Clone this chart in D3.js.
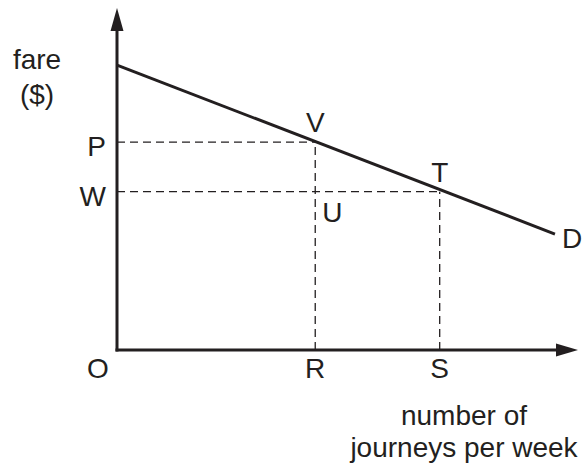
<!DOCTYPE html>
<html>
<head lang="en">
    <meta charset="UTF-8">
    <title>Fare demand</title>
    <script src="https://d3js.org/d3.v7.min.js"></script>
    <style type="text/css">
        body { margin: 0; background: #fff; }
        text { font-family: "Liberation Sans", Arial, sans-serif; font-size: 28px; fill: #231f20; }
    </style>
</head>
<body>

<svg id="svg" width="584" height="470"></svg>

<script>
    // demand line D (quantity, fare)
    var demand = [{q: 0, fare: 8.33}, {q: 9.5, fare: 3.39}];
    // points
    var fareLevels = [{name: "P", fare: 6.08}, {name: "W", fare: 4.63}];
    var quantities = [{name: "R", q: 4.3}, {name: "S", q: 7.0}];
    var points = [
        {name: "V", q: 4.3, fare: 6.08},
        {name: "T", q: 7.0, fare: 4.63}
    ];

    var ink = "#231f20";
    var svg = d3.select("svg");

    var x = d3.scaleLinear().domain([0, 10]).range([117, 578]);
    var y = d3.scaleLinear().domain([0, 10]).range([350, 8]);

    // dashed guides
    fareLevels.forEach(function (d, i) {
        var p = points[i];
        svg.append("line")
            .attr("x1", x(0)).attr("x2", x(p.q))
            .attr("y1", y(d.fare)).attr("y2", y(d.fare))
            .attr("stroke", ink).attr("stroke-width", 1.3)
            .attr("stroke-dasharray", "8,5");
    });
    quantities.forEach(function (d, i) {
        var p = points[i];
        svg.append("line")
            .attr("x1", x(d.q)).attr("x2", x(d.q))
            .attr("y1", y(0)).attr("y2", y(p.fare))
            .attr("stroke", ink).attr("stroke-width", 1.3)
            .attr("stroke-dasharray", "8,5");
    });

    // axes
    svg.append("line")
        .attr("x1", x(0)).attr("x2", x(0))
        .attr("y1", y(0) + 1.5).attr("y2", y(10) + 20)
        .attr("stroke", ink).attr("stroke-width", 3);
    svg.append("line")
        .attr("x1", x(0) - 1.5).attr("x2", x(10) - 20)
        .attr("y1", y(0)).attr("y2", y(0))
        .attr("stroke", ink).attr("stroke-width", 3);

    // arrowheads
    svg.append("path")
        .attr("d", "M" + x(0) + "," + y(10) + "L" + (x(0) - 6.5) + "," + (y(10) + 23) + "L" + (x(0) + 6.5) + "," + (y(10) + 23) + "Z")
        .attr("fill", ink);
    svg.append("path")
        .attr("d", "M" + x(10) + "," + y(0) + "L" + (x(10) - 22) + "," + (y(0) - 6.5) + "L" + (x(10) - 22) + "," + (y(0) + 6.5) + "Z")
        .attr("fill", ink);

    // demand line
    svg.append("path")
        .datum(demand)
        .attr("d", d3.line().x(function (d) { return x(d.q); }).y(function (d) { return y(d.fare); }))
        .attr("fill", "none").attr("stroke", ink).attr("stroke-width", 3);

    // labels
    svg.selectAll(".flabel").data(fareLevels).enter().append("text")
        .attr("x", x(0) - 11).attr("y", function (d) { return y(d.fare) + 14; })
        .attr("text-anchor", "end").text(function (d) { return d.name; });

    svg.selectAll(".qlabel").data(quantities).enter().append("text")
        .attr("x", function (d) { return x(d.q); }).attr("y", y(0) + 28)
        .attr("text-anchor", "middle").text(function (d) { return d.name; });

    svg.selectAll(".plabel").data(points).enter().append("text")
        .attr("x", function (d) { return x(d.q); }).attr("y", function (d) { return y(d.fare) - 10; })
        .attr("text-anchor", "middle").text(function (d) { return d.name; });

    svg.append("text").attr("x", x(quantities[0].q) + 7).attr("y", y(fareLevels[1].fare) + 30).text("U");
    svg.append("text").attr("x", x(demand[1].q) + 7).attr("y", y(demand[1].fare) + 14).text("D");
    svg.append("text").attr("x", x(0) - 19).attr("y", y(0) + 28).attr("text-anchor", "middle").text("O");

    svg.append("text").attr("x", 37).attr("y", 69).attr("text-anchor", "middle").text("fare");
    svg.append("text").attr("x", 37).attr("y", 104).attr("text-anchor", "middle").text("($)");

    svg.append("text").attr("x", 464).attr("y", 425).attr("text-anchor", "middle").text("number of");
    svg.append("text").attr("x", 464).attr("y", 457).attr("text-anchor", "middle").text("journeys per week");
</script>

</body>
</html>
